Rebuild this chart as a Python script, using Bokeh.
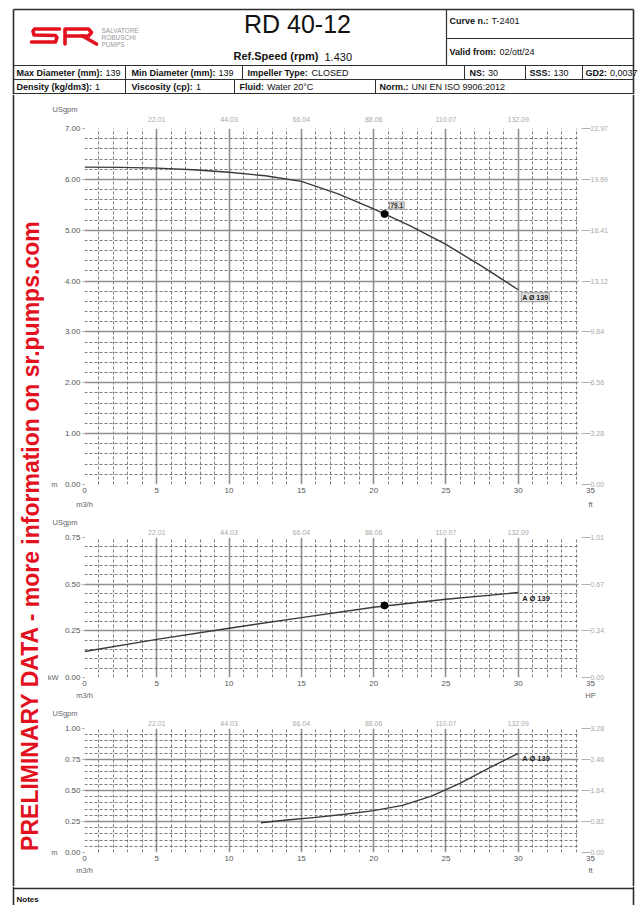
from bokeh.plotting import figure
from bokeh.layouts import column, row
from bokeh.models import Range1d, LinearAxis, FixedTicker, Label, PrintfTickFormatter, Title
from bokeh.core.properties import value
from bokeh.embed import file_html
from bokeh.resources import INLINE

# ---------------- data ----------------
flow_head = [0, 2.5, 5, 7.5, 10, 12.5, 15, 17.5, 20, 22.5, 25, 27.5, 30]
head_m = [6.24, 6.235, 6.22, 6.19, 6.14, 6.07, 5.96, 5.72, 5.42, 5.09, 4.72, 4.29, 3.83]

flow_power = [0, 5, 10, 15, 20, 25, 30]
power_kw = [0.139, 0.204, 0.264, 0.321, 0.376, 0.419, 0.455]

flow_npsh = [12.2, 14, 16, 18, 20, 22, 24, 26, 28, 30]
npsh_m = [0.24, 0.262, 0.283, 0.308, 0.338, 0.38, 0.455, 0.56, 0.683, 0.80]

duty_flow = 20.75
duty_head = 5.32
duty_power = 0.386
duty_label = "79.1"
curve_label = "A Ø 139"

x_ticks = [0, 5, 10, 15, 20, 25, 30, 35]
x_grid_major = [0, 5, 10, 15, 20, 25, 30]
usgpm_ticks = [5, 10, 15, 20, 25, 30]
usgpm_labels = ["22.01", "44.03", "66.04", "88.06", "110.07", "132.09"]

head_ticks = [0, 1, 2, 3, 4, 5, 6, 7]
head_ft_labels = ["0.00", "3.28", "6.56", "9.84", "13.12", "16.41", "19.69", "22.97"]

power_ticks = [0, 0.25, 0.5, 0.75]
power_hp_labels = ["0.00", "0.34", "0.67", "1.01"]

npsh_ticks = [0, 0.25, 0.5, 0.75, 1.0]
npsh_ft_labels = ["0.00", "0.82", "1.64", "2.46", "3.28"]

FONT = "Liberation Sans"
DARK = "#2e2e2e"
RED = "#e3101e"
XMAX = 35.0
GRID_END = 34.2

BW = {" ": 278, "(": 333, ")": 333, ".": 278, ":": 333, "/": 278, "A": 722, "C": 722,
      "D": 722, "F": 611, "G": 778, "I": 278, "M": 833, "N": 722, "R": 722, "S": 667,
      "T": 611, "V": 667, "a": 556, "c": 556, "d": 611, "e": 556, "f": 333, "g": 611,
      "i": 278, "k": 556, "l": 278, "m": 889, "n": 611, "o": 611, "p": 611, "r": 389,
      "s": 556, "t": 333, "u": 611, "v": 556, "x": 556, "y": 556, "2": 556, "3": 556}


def bold_width(s, size):
    return sum(BW.get(c, 556) for c in s) * size / 1000.0


def deco(x0, x1, y0, y1):
    f = figure(width=x1 - x0, height=y1 - y0, x_range=Range1d(x0, x1),
               y_range=Range1d(y1, y0), output_backend="svg",
               toolbar_location=None, min_border=0, title=None,
               x_axis_location=None, y_axis_location=None)
    f.grid.visible = False
    f.outline_line_color = None
    f.background_fill_color = "white"
    f.border_fill_color = "white"
    return f


def txt(f, x, y, s, size="9px", bold=False, color="#111", align="left", angle=0):
    f.text(x=[x], y=[y], text=[s], text_font=value(FONT), text_font_size=size,
           text_font_style="bold" if bold else "normal", text_color=color,
           text_align=align, text_baseline="middle", angle=angle)


def field(f, x, y, label, val, size=9):
    txt(f, x, y, label, size="%gpx" % size, bold=True)
    txt(f, x + bold_width(label, size) + 3, y, val, size="%gpx" % size)


# ---------------- header ----------------
hdr = deco(0, 640, 0, 94)
hdr.segment(x0=[13, 13, 633], y0=[9, 9, 9], x1=[633, 13, 633], y1=[9, 94, 94],
            line_color=DARK, line_width=1.6)
hdr.segment(x0=[446, 446, 13, 13, 13],
            y0=[9, 38, 65, 79, 93],
            x1=[446, 633, 633, 633, 633],
            y1=[65, 38, 65, 79, 93], line_color=DARK, line_width=1.2)
hdr.segment(x0=[125, 242, 464, 525, 582, 125, 234, 375],
            y0=[65, 65, 65, 65, 65, 79, 79, 79],
            x1=[125, 242, 464, 525, 582, 125, 234, 375],
            y1=[79, 79, 79, 79, 79, 93, 93, 93], line_color=DARK, line_width=1.0)
hdr.multi_line(xs=[[59, 34, 32.5, 33.5, 55, 56.5, 55, 31],
                   [64.5, 64.5, 88, 91, 88, 67],
                   [82, 96]],
               ys=[[28.5, 28.5, 30.5, 34.5, 35, 37, 41.5, 41.5],
                   [43.5, 28.5, 28.5, 32, 35.5, 35.5],
                   [35.5, 43.5]],
               line_color=RED, line_width=3.6, line_join="round", line_cap="round")
for yy, s in [(29.5, "SALVATORE"), (36.5, "ROBUSCHI"), (43.5, "PUMPS")]:
    txt(hdr, 101, yy, s, size="6.5px", color="#9a9a9a")
txt(hdr, 297, 23, "RD 40-12", size="25px", align="center", color="#111")
txt(hdr, 233, 55, "Ref.Speed (rpm)", size="11px", bold=True)
txt(hdr, 324, 56, "1.430", size="11px")
field(hdr, 449, 20, "Curve n.:", "T-2401")
field(hdr, 449, 51, "Valid from:", "02/ott/24")
for x, l, v in [(16, "Max Diameter (mm):", "139"), (131, "Min Diameter (mm):", "139"),
                (247, "Impeller Type:", "CLOSED"), (469, "NS:", "30"),
                (529, "SSS:", "130"), (585, "GD2:", "0,0037")]:
    field(hdr, x, 72, l, v)
for x, l, v in [(16, "Density (kg/dm3):", "1"), (131, "Viscosity (cp):", "1"),
                (239, "Fluid:", "Water 20°C"), (379, "Norm.:", "UNI EN ISO 9906:2012")]:
    field(hdr, x, 86, l, v)

left = deco(0, 44, 94, 886)
left.segment(x0=[13], y0=[94], x1=[13], y1=[886], line_color=DARK, line_width=1.6)
txt(left, 30, 535, "PRELIMINARY DATA - more information on sr.pumps.com",
    size="23px", bold=True, color=RED, align="center", angle=1.5707963)

right = deco(620, 640, 94, 886)
right.segment(x0=[633], y0=[94], x1=[633], y1=[886], line_color=DARK, line_width=1.6)

foot = deco(0, 640, 886, 905)
foot.segment(x0=[13, 13, 633], y0=[888, 886, 886], x1=[633, 13, 633], y1=[888, 905, 905],
             line_color=DARK, line_width=1.6)
txt(foot, 16, 899, "Notes", size="8px", bold=True)


# ---------------- charts ----------------
def lab(p, x, y, s, xo=0, yo=0, size="8px", bold=False, color="#666", align="left",
        baseline="middle", box=False):
    kw = {}
    if box:
        kw = dict(background_fill_color="#dedede", border_line_color="#8a8a8a",
                  border_line_width=0.8, padding=1)
    p.add_layout(Label(x=x, y=y, text=s, x_offset=xo, y_offset=yo,
                       text_font=FONT, text_font_size=size,
                       text_font_style="bold" if bold else "normal",
                       text_color=color, text_align=align, text_baseline=baseline, **kw))


def plain_axis(ticks, labels, size, color, standoff, tick_out=0, tick_in=0,
               tick_color=None):
    return LinearAxis(ticker=FixedTicker(ticks=ticks),
                      major_label_overrides=dict(zip(ticks, labels)),
                      axis_line_color=None, major_tick_out=tick_out, major_tick_in=tick_in,
                      major_tick_line_color=tick_color, minor_tick_out=0, minor_tick_in=0,
                      major_label_standoff=standoff, major_label_text_font=FONT,
                      major_label_text_font_size=size, major_label_text_color=color)


def chart(height, top, bottom, ymax, y_ticks, y_minor_step, right_labels,
          unit_left, unit_left_standoff, unit_right, top_standoff, unit_standoff):
    p = figure(width=576, height=height, x_range=Range1d(0, XMAX),
               y_range=Range1d(0, ymax), output_backend="svg", toolbar_location=None,
               min_border_left=40, min_border_right=30, min_border_top=top,
               min_border_bottom=bottom, title=None)
    p.outline_line_color = None
    p.background_fill_color = "white"
    p.border_fill_color = "white"
    xminor = [i for i in range(1, 35) if i % 5 != 0]
    p.xgrid[0].ticker = FixedTicker(ticks=x_grid_major, minor_ticks=xminor)
    n = int(round(ymax / y_minor_step))
    yminor = [round(i * y_minor_step, 4) for i in range(n + 1)]
    yminor = [v for v in yminor if min(abs(v - t) for t in y_ticks) > 1e-6]
    p.ygrid[0].ticker = FixedTicker(ticks=y_ticks, minor_ticks=yminor)
    for g in (p.xgrid[0], p.ygrid[0]):
        g.grid_line_color = "#8f8f8f"
        g.grid_line_width = 1.6
        g.minor_grid_line_color = "#5e5e5e"
        g.minor_grid_line_width = 0.8
        g.minor_grid_line_dash = "3 2"
    try:
        p.ygrid[0].cross_bounds = (0, GRID_END)
    except Exception:
        pass
    # bottom axis: flow m3/h
    xa = p.xaxis[0]
    xa.ticker = FixedTicker(ticks=x_ticks)
    xa.axis_line_color = None
    xa.major_tick_out = 0
    xa.major_tick_in = 0
    xa.minor_tick_out = 0
    xa.major_label_standoff = 3
    xa.major_label_text_font = FONT
    xa.major_label_text_font_size = "8px"
    xa.major_label_text_color = "#555"
    # second bottom row: units
    p.add_layout(plain_axis([0, XMAX], ["m3/h", unit_right], "7.5px", "#666",
                            unit_standoff), "below")
    # left axis
    ya = p.yaxis[0]
    ya.ticker = FixedTicker(ticks=y_ticks)
    ya.formatter = PrintfTickFormatter(format="%.2f")
    ya.axis_line_color = None
    ya.major_tick_out = 2
    ya.major_tick_in = 0
    ya.minor_tick_out = 0
    ya.major_tick_line_color = "#999"
    ya.major_label_standoff = 2
    ya.major_label_text_font = FONT
    ya.major_label_text_font_size = "8px"
    ya.major_label_text_color = "#555"
    # left unit next to zero
    p.add_layout(plain_axis([0], [unit_left], "7.5px", "#666", unit_left_standoff), "left")
    # top axis: USgpm
    p.add_layout(plain_axis(usgpm_ticks, usgpm_labels, "7px", "#a8a8a8", top_standoff),
                 "above")
    p.add_layout(Title(text="USgpm", align="left", offset=-32, standoff=0,
                       text_font=FONT, text_font_size="7.5px", text_font_style="normal",
                       text_color="#666"), "above")
    # right axis
    p.add_layout(plain_axis(y_ticks, right_labels, "7px", "#a8a8a8", 0, tick_in=9,
                            tick_color="#b0b0b0"), "right")
    return p


p1 = chart(418, 34, 28, 7, head_ticks, 0.2, head_ft_labels, "m", 4, "ft", 7, 4)
p1.line(flow_head, head_m, line_color="#3a3a3a", line_width=1.4)
p1.scatter([duty_flow], [duty_head], size=7, color="black")
lab(p1, duty_flow, duty_head, duty_label, xo=5, yo=5, size="6.5px", bold=True,
    color="#333", baseline="bottom", box=True)
lab(p1, flow_head[-1], head_m[-1], curve_label, xo=3, yo=-3, size="7px", bold=True,
    color="#222", baseline="top", box=True)

p2 = chart(192, 25, 27, 0.75, power_ticks, 0.05, power_hp_labels, "kW", 3, "HP", 3, 2)
p2.line(flow_power, power_kw, line_color="#3a3a3a", line_width=1.4)
p2.scatter([duty_flow], [duty_power], size=7, color="black")
lab(p2, flow_power[-1], power_kw[-1], curve_label, xo=4, yo=-6, size="7.5px",
    bold=True, color="#222")

p3 = chart(182, 24, 34, 1.0, npsh_ticks, 0.05, npsh_ft_labels, "m", 4, "ft", 3, 2)
p3.line(flow_npsh, npsh_m, line_color="#3a3a3a", line_width=1.4)
lab(p3, flow_npsh[-1], npsh_m[-1], curve_label, xo=4, yo=-5, size="7.5px",
    bold=True, color="#222")

page = column(hdr, row(left, column(p1, p2, p3), right), foot)

open("out.html", "w").write(file_html(page, INLINE))
